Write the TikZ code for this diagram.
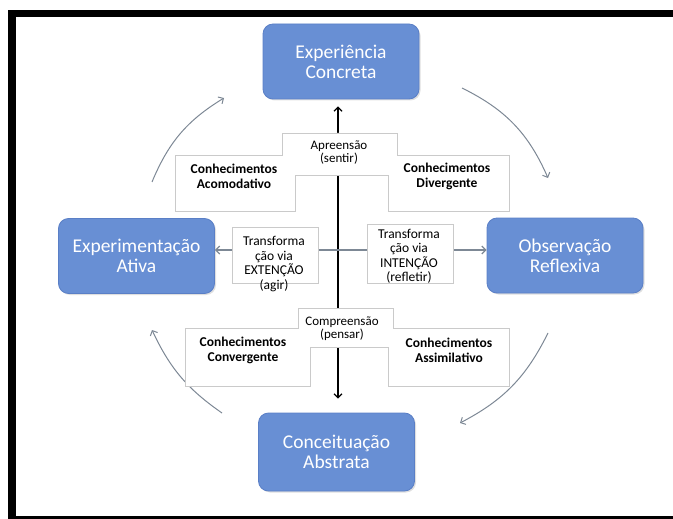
\documentclass[tikz,border=0pt]{standalone}
\usepackage{fontspec}
\setmainfont{Carlito}
\usetikzlibrary{arrows.meta,shadows}

\definecolor{boxblue}{HTML}{688FD4}
\definecolor{boxedge}{HTML}{5A7FC6}
\definecolor{arcgray}{HTML}{7D8895}
\definecolor{panelgray}{HTML}{CACACA}

\begin{document}
\begin{tikzpicture}[x=1pt,y=-1pt,
	stage/.style={draw=boxedge, fill=boxblue, rounded corners=10pt, line width=0.8pt,
		minimum width=156pt, minimum height=75pt, align=center, text=white,
		font=\fontsize{19.5}{20}\selectfont,
		drop shadow={opacity=0.25, shadow xshift=1.5pt, shadow yshift=-1.5pt}},
	know/.style={align=center, font=\bfseries\fontsize{13.5}{15}\selectfont},
	mode/.style={align=center, font=\fontsize{13}{13}\selectfont},
	transf/.style={align=center, font=\fontsize{13.5}{14.5}\selectfont},
	panel/.style={draw=panelgray, fill=white, line width=0.6pt},
	cyc/.style={draw=arcgray, line width=1pt, -{Straight Barb[length=4pt,width=8pt]}},
	axisline/.style={line width=1.2pt, {Straight Barb[length=4pt,width=8pt]}-{Straight Barb[length=4pt,width=8pt]}}]
	\useasboundingbox (0,0) rectangle (673,519);
	% frame
	\fill (8,10) rectangle (673,17);
	\fill (8,10) rectangle (16,519);
	\fill (8,516) rectangle (673,519);

	\node[stage] (ec) at (341,61.5) {Experiência\\Concreta};
	\node[stage] (or) at (565,255.5) {Observação\\Reflexiva};
	\node[stage, minimum height=78pt] (ca) at (336.5,452) {Conceituação\\Abstrata};
	\node[stage] (ea) at (136.5,256) {Experimentação\\Ativa};

	% cycle
	\draw[cyc] (152,182) to[bend left=18] (224,98);
	\draw[cyc] (462,88) to[bend left=20] (548,178);
	\draw[cyc] (548,333) to[bend left=18] (460,423);
	\draw[cyc] (222,413) to[bend left=15] (152,330);

	% axes
	\coordinate (c) at (338,250);
	\draw[axisline, shorten <=14pt, shorten >=7pt] (c |- ca.north) -- (c |- ec.south);
	\draw[axisline, draw=arcgray] (ea.east |- c) -- (or.west |- c);

	% panels
	\draw[panel] (175,155) -- (282,155) -- (282,133) -- (397,133) -- (397,155) -- (509,155)
		-- (509,211) -- (388,211) -- (388,175) -- (295,175) -- (295,211) -- (175,211) -- cycle;
	\draw[panel] (185,328) -- (298,328) -- (298,308) -- (393,308) -- (393,328) -- (509,328)
		-- (509,386) -- (388,386) -- (388,347) -- (310,347) -- (310,386) -- (185,386) -- cycle;
	\draw[panel] (232,227) rectangle (318,283);
	\draw[panel] (367,224) rectangle (453,283);

	\node[mode] (apr) at (339,152.5) {Apreensão\\(sentir)};
	\node[know] (acom) at (234,176) {Conhecimentos\\Acomodativo};
	\node[know] (div) at (447,176) {Conhecimentos\\Divergente};
	\node[transf] (ext) at (274,264) {Transforma\\ção via\\EXTENÇÃO\\(agir)};
	\node[transf] (int) at (409,256.5) {Transforma\\ção via\\INTENÇÃO\\(refletir)};
	\node[mode] (comp) at (342,329) {Compreensão\\(pensar)};
	\node[know] (conv) at (243,350.5) {Conhecimentos\\Convergente};
	\node[know] (assi) at (449,350.5) {Conhecimentos\\Assimilativo};
\end{tikzpicture}
\end{document}
